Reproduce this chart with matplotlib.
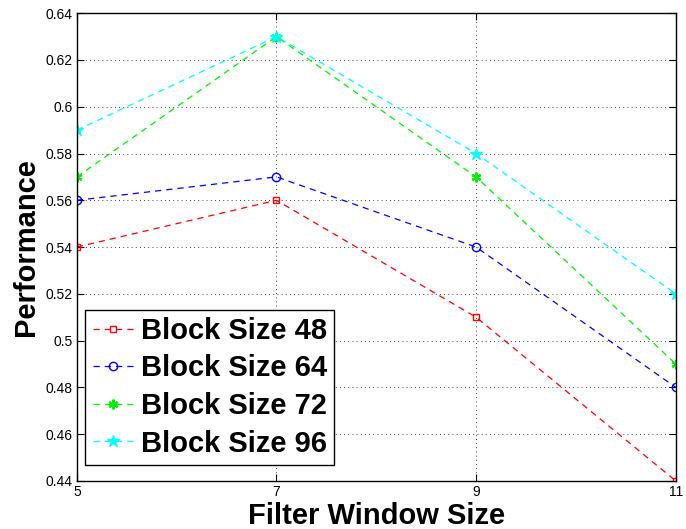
import matplotlib
matplotlib.use("Agg")
import matplotlib.pyplot as plt

plt.rcParams['font.family'] = ['Liberation Sans', 'DejaVu Sans']

x = [5, 7, 9, 11]
labels = ["Block Size 48", "Block Size 64", "Block Size 72", "Block Size 96"]
s48 = [0.54, 0.56, 0.51, 0.44]
s64 = [0.56, 0.57, 0.54, 0.48]
s72 = [0.57, 0.63, 0.57, 0.49]
s96 = [0.59, 0.63, 0.58, 0.52]
yticks = [0.44, 0.46, 0.48, 0.5, 0.52, 0.54, 0.56, 0.58, 0.6, 0.62, 0.64]
ytick_labels = ["0.44", "0.46", "0.48", "0.5", "0.52", "0.54", "0.56", "0.58", "0.6", "0.62", "0.64"]
xticks = [5, 7, 9, 11]

fig = plt.figure(figsize=(6.86, 5.29), dpi=100)
ax = fig.add_axes([0.112, 0.091, 0.873, 0.884])

ax.plot(x, s48, color='red', ls=(0, (5, 4)), lw=0.9, marker='s', ms=5, mfc='none', mec='red', label=labels[0])
ax.plot(x, s64, color='blue', ls=(0, (5, 4)), lw=0.9, marker='o', ms=6, mfc='none', mec='blue', label=labels[1])
ax.plot(x, s72, color='#00ee00', ls=(0, (5, 4)), lw=0.9, marker=(6, 2, 0), ms=7, mec='#00ee00', mew=1.5, label=labels[2])
ax.plot(x, s96, color='cyan', ls=(0, (5, 4)), lw=0.9, marker='*', ms=9, mfc='cyan', mec='cyan', label=labels[3])

ax.set_xlim(5, 11)
ax.set_ylim(0.44, 0.64)
ax.set_xticks(xticks)
ax.set_xticklabels([str(v) for v in xticks])
ax.set_yticks(yticks)
ax.set_yticklabels(ytick_labels)
ax.tick_params(direction='in', labelsize=10, length=5, top=True, right=True, pad=3)
ax.grid(True, color='black', ls=(0, (1, 4)), lw=0.6)
for sp in ax.spines.values():
    sp.set_linewidth(1.0)

ax.set_xlabel("Filter Window Size", fontsize=21, fontweight='bold', labelpad=2)
ax.set_ylabel("Performance", fontsize=21, fontweight='bold', labelpad=4)

leg = ax.legend(loc='lower left', bbox_to_anchor=(0.014, 0.034), prop={'size': 21, 'weight': 'bold'},
                fancybox=False, framealpha=1, edgecolor='black', handlelength=1.4, handletextpad=0.25,
                labelspacing=0.33, borderpad=0.25, borderaxespad=0)
leg.get_frame().set_linewidth(1.0)

fig.savefig("out.png", dpi=100)
